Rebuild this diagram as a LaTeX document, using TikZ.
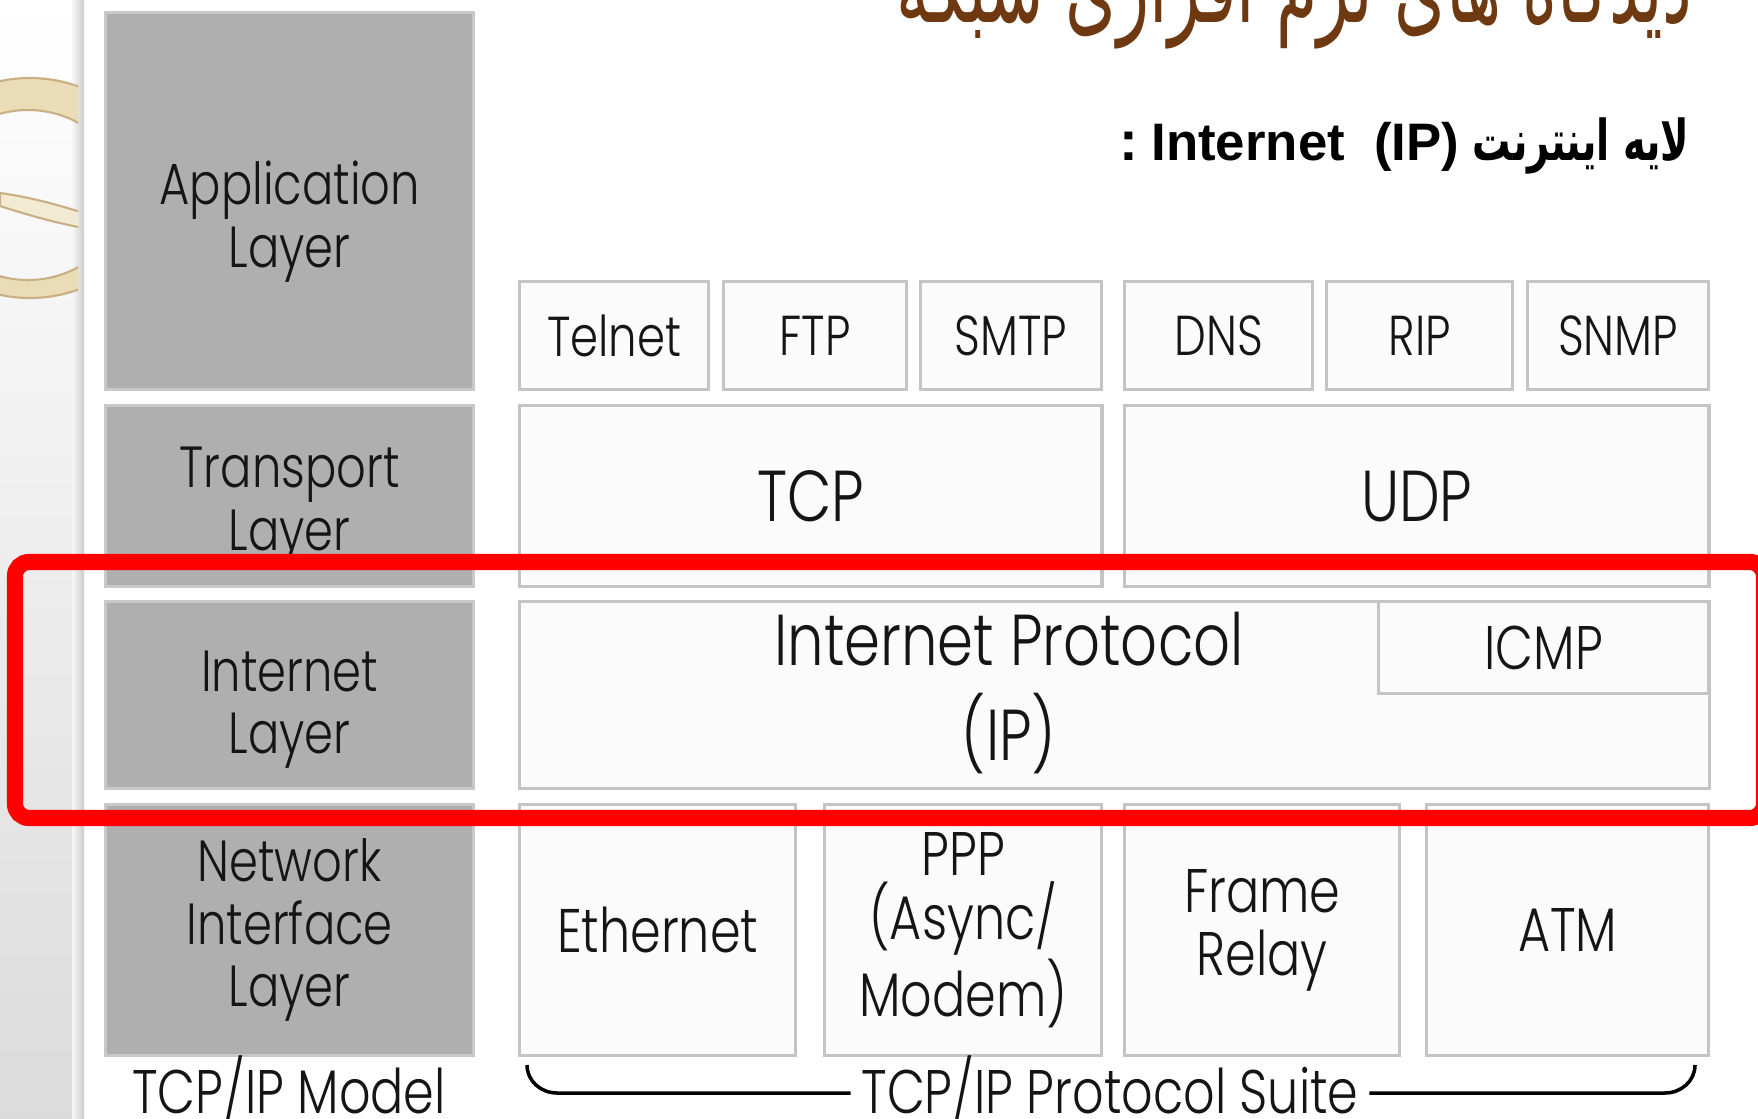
\documentclass[tikz,border=0pt]{standalone}
\usepackage{fontspec}
\setmainfont{Poppins Light}[FakeStretch=0.8]
\newfontfamily\titlefont[Script=Arabic, FakeStretch=0.61]{DejaVu Sans}
\newfontfamily\subarabicfont[Script=Arabic, FakeStretch=0.68]{DejaVu Sans}
\newfontfamily\arialfont{Liberation Sans}
\TeXXeTstate=1
\usetikzlibrary{positioning}
\definecolor{layergray}{HTML}{AFAFAF}
\definecolor{layerline}{HTML}{C8C8C8}
\definecolor{protofill}{HTML}{FBFBFB}
\definecolor{protoline}{HTML}{C4C4C4}
\definecolor{titlebrown}{HTML}{6E3810}
\definecolor{ringfill}{HTML}{EADCB6}
\definecolor{ringline}{HTML}{C8B084}
\definecolor{inktext}{HTML}{151515}

\begin{document}
\begin{tikzpicture}[
  x=0.01cm, y=-0.01cm,
  cell/.style 2 args={anchor=north west, minimum width=#1cm, minimum height=#2cm},
  layer/.style={draw=layerline, fill=layergray, line width=0.9pt, inner sep=0pt,
                align=center, text=inktext, font=\fontsize{16.5}{17.8}\selectfont},
  proto/.style={draw=protoline, fill=protofill, line width=0.9pt, inner sep=0pt,
                align=center, text=inktext, font=\fontsize{17.5}{18}\selectfont},
  bigproto/.style={proto, font=\fontsize{20.5}{24}\selectfont},
  smallproto/.style={proto, font=\fontsize{16}{18}\selectfont},
  caption/.style={anchor=base, text=inktext, inner sep=1mm, font=\fontsize{17.5}{19}\selectfont},
  hilite/.style={draw=red, line width=4.6pt, rounded corners=4pt},
  brace/.style={line width=1pt, black}
]
  \useasboundingbox (0,0) rectangle (1758,1118);
  \clip (0,0) rectangle (1758,1118);

  % slide background
  \fill[white] (0,0) rectangle (1758,1118);
  \shade[top color=white, bottom color=black!14] (0,0) rectangle (84,1118);
  \shade[left color=black!3, right color=black!20] (72,0) rectangle (84,1118);
  \begin{scope}
    \clip (0,0) rectangle (78,1118);
    \fill[ringfill, draw=ringline, line width=0.6pt, even odd rule]
      (30,188) ellipse[x radius=125, y radius=110]
      (28,195) ellipse[x radius=95, y radius=85];
    \fill[ringfill!60, draw=ringline, line width=0.6pt]
      (0,193) .. controls (30,197) and (58,205) .. (84,213)
      -- (84,228) .. controls (55,223) and (25,214) .. (0,206) -- cycle;
  \end{scope}

  % title
  \node[anchor=base east, inner sep=0pt, text=titlebrown,
        font=\titlefont\fontsize{31}{36}\selectfont] (title) at (1693,22)
        {\beginR دیدگاه های نرم افزاری شبکه\endR};
  \node[anchor=east, inner sep=0pt, font=\subarabicfont\bfseries\fontsize{16}{18}\selectfont]
        (subtitle) at (1690,146)
        {\beginR لایه اینترنت \beginL{\arialfont\bfseries\fontsize{15}{18}\selectfont Internet\ \ (IP)}\endL{} {\arialfont\bfseries :}\endR};

  % TCP/IP model layers
  \node[layer, cell={3.68}{3.77}, text height=42pt] (app) at (104,11) {Application\\Layer};
  \node[layer, cell={3.68}{1.81}, text height=35pt] (trans) at (104,404) {Transport\\Layer};
  \node[layer, cell={3.68}{1.87}, text height=37.5pt] (inet) at (104,600) {Internet\\Layer};
  \node[layer, cell={3.68}{2.51}] (netif) at (104,803) {Network\\Interface\\Layer};
  \node[caption] (model) at (289,1113) {TCP/IP Model};

  % protocol suite
  \node[smallproto, cell={1.89}{1.08}] (telnet) at (518,280)  {Telnet};
  \node[smallproto, cell={1.83}{1.08}] (ftp)    at (722,280)  {FTP};
  \node[smallproto, cell={1.81}{1.08}] (smtp)   at (919,280)  {SMTP};
  \node[smallproto, cell={1.88}{1.08}] (dns)    at (1123,280) {DNS};
  \node[smallproto, cell={1.86}{1.08}] (rip)    at (1325,280) {RIP};
  \node[smallproto, cell={1.81}{1.08}] (snmp)   at (1526,280) {SNMP};

  \node[bigproto, cell={5.82}{1.81}] (tcp) at (518,404)  {TCP};
  \node[bigproto, cell={5.84}{1.81}] (udp) at (1123,404) {UDP};

  \node[proto, cell={11.89}{1.87}] (ip) at (518,600) {};
  \node[align=center, text=inktext, inner sep=0pt, font=\fontsize{20.5}{27}\selectfont]
        (iplabel) at (1009,693) {Internet Protocol\\(IP)};
  \node[proto, cell={3.30}{0.92}] (icmp) at (1377,600) {ICMP};

  \node[proto, cell={2.76}{2.51}] (eth)   at (518,803)  {Ethernet};
  \node[proto, cell={2.77}{2.51}] (ppp)   at (823,803)  {PPP\\(Async/\\Modem)};
  \node[proto, cell={2.75}{2.51}] (frame) at (1123,803) {Frame\\Relay};
  \node[proto, cell={2.82}{2.51}] (atm)   at (1425,803) {ATM};

  \node[caption] (suite) at (1110,1113) {TCP/IP Protocol Suite};
  \coordinate (braceL) at (527,1065);
  \coordinate (braceR) at (1695,1065);
  \draw[brace] (braceL) to[out=-90,in=180] ++(30,28) coordinate (braceLB)
    -- (braceLB -| suite.west);
  \draw[brace] (braceR) to[out=-90,in=0] ++(-30,28) coordinate (braceRB)
    -- (braceRB -| suite.east);

  % highlight of the internet layer
  \draw[hilite] (15,562) rectangle (1764,818);
\end{tikzpicture}
\end{document}
